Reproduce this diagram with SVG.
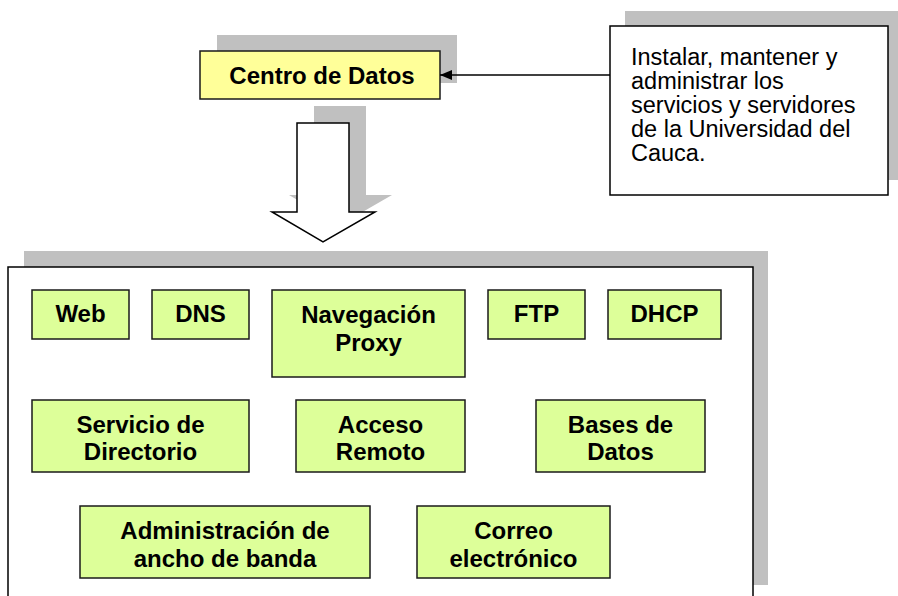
<svg xmlns="http://www.w3.org/2000/svg" width="898" height="596" viewBox="0 0 898 596">
  <style>
    .shadow { fill: #c0c0c0; stroke: none; }
    .frame { fill: #ffffff; stroke: #000; stroke-width: 1.5; }
    .svc { fill: #ddff99; stroke: #1a1a1a; stroke-width: 1.5; }
    .hub { fill: #ffff99; stroke: #1a1a1a; stroke-width: 1.5; }
    .lbl { font-family: "Liberation Sans", Arial, sans-serif; font-weight: bold; font-size: 24px; fill: #000; text-anchor: middle; }
    .note { font-family: "Liberation Sans", Arial, sans-serif; font-size: 23.5px; fill: #000; }
  </style>
  <defs>
    <marker id="head" markerWidth="12" markerHeight="10" refX="12" refY="5" orient="auto" markerUnits="userSpaceOnUse">
      <path d="M0,0 L12,5 L0,10 Z" fill="#000"/>
    </marker>
  </defs>

  <rect width="898" height="596" fill="#ffffff"/>

  <!-- Centro de Datos -->
  <g id="centro">
    <rect class="shadow" x="217" y="35" width="240" height="48"/>
    <rect class="hub" x="200" y="51" width="240" height="48"/>
    <text class="lbl" x="322" y="84">Centro de Datos</text>
  </g>

  <!-- Description note -->
  <g id="nota">
    <rect class="shadow" x="625" y="11" width="278" height="169"/>
    <rect class="frame" x="610" y="26" width="278" height="169"/>
    <text class="note" x="631" y="65">Instalar, mantener y</text>
    <text class="note" x="631" y="89">administrar los</text>
    <text class="note" x="631" y="113">servicios y servidores</text>
    <text class="note" x="631" y="137">de la Universidad del</text>
    <text class="note" x="631" y="161">Cauca.</text>
  </g>

  <!-- Connectors -->
  <g id="conectores">
    <line x1="610" y1="75" x2="440" y2="75" stroke="#000" stroke-width="1.6" marker-end="url(#head)"/>
    <path class="shadow" d="M314,106 L366,106 L366,195 L392,195 L340,225 L289,195 L314,195 Z"/>
    <path d="M297,123 L349,123 L349,212 L375,212 L323,242 L272,212 L297,212 Z" fill="#ffffff" stroke="#000" stroke-width="1.5" stroke-linejoin="miter"/>
  </g>

  <!-- Services container -->
  <g id="servicios">
    <rect class="shadow" x="24" y="251" width="744" height="334"/>
    <rect class="frame" x="8" y="267" width="745" height="340"/>
  </g>

  <g id="web">
    <rect class="svc" x="32" y="290" width="97" height="49"/>
    <text class="lbl" x="80.5" y="322">Web</text>
  </g>
  <g id="dns">
    <rect class="svc" x="152" y="290" width="97" height="49"/>
    <text class="lbl" x="200.5" y="322">DNS</text>
  </g>
  <g id="proxy">
    <rect class="svc" x="272" y="290" width="193" height="87"/>
    <text class="lbl" x="368.5" y="323">Navegación</text>
    <text class="lbl" x="368.5" y="351">Proxy</text>
  </g>
  <g id="ftp">
    <rect class="svc" x="488" y="290" width="97" height="49"/>
    <text class="lbl" x="536.5" y="322">FTP</text>
  </g>
  <g id="dhcp">
    <rect class="svc" x="608" y="290" width="113" height="49"/>
    <text class="lbl" x="664.5" y="322">DHCP</text>
  </g>

  <g id="directorio">
    <rect class="svc" x="32" y="400" width="217" height="72"/>
    <text class="lbl" x="140.5" y="433">Servicio de</text>
    <text class="lbl" x="140.5" y="460">Directorio</text>
  </g>
  <g id="acceso">
    <rect class="svc" x="296" y="400" width="169" height="72"/>
    <text class="lbl" x="380.5" y="433">Acceso</text>
    <text class="lbl" x="380.5" y="460">Remoto</text>
  </g>
  <g id="bases">
    <rect class="svc" x="536" y="400" width="169" height="72"/>
    <text class="lbl" x="620.5" y="433">Bases de</text>
    <text class="lbl" x="620.5" y="460">Datos</text>
  </g>

  <g id="ancho-banda">
    <rect class="svc" x="80" y="506" width="290" height="72"/>
    <text class="lbl" x="225" y="539">Administración de</text>
    <text class="lbl" x="225" y="567">ancho de banda</text>
  </g>
  <g id="correo">
    <rect class="svc" x="417" y="506" width="193" height="72"/>
    <text class="lbl" x="513.5" y="539">Correo</text>
    <text class="lbl" x="513.5" y="567">electrónico</text>
  </g>
</svg>
